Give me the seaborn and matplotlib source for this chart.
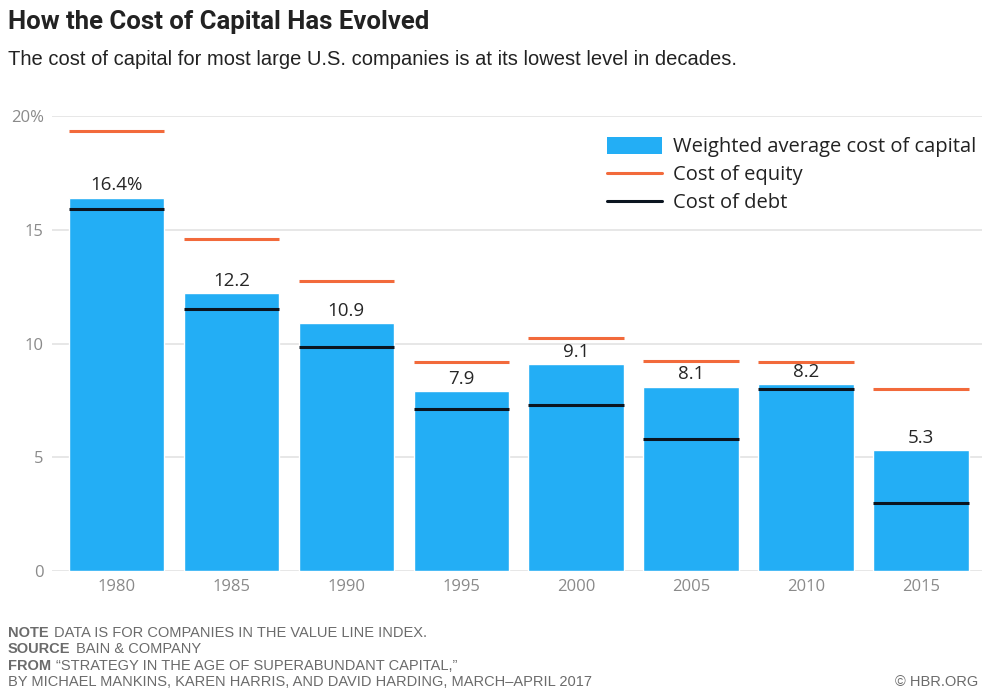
import numpy as np
import pandas as pd
import matplotlib
matplotlib.use("Agg")
import matplotlib.pyplot as plt
from matplotlib.patches import Patch
from matplotlib.lines import Line2D
import seaborn as sns

# data
years = ["1980", "1985", "1990", "1995", "2000", "2005", "2010", "2015"]
wacc = [16.4, 12.2, 10.9, 7.9, 9.1, 8.1, 8.2, 5.3]
wacc_labels = ["16.4%", "12.2", "10.9", "7.9", "9.1", "8.1", "8.2", "5.3"]
equity = [19.35, 14.6, 12.75, 9.2, 10.25, 9.25, 9.2, 8.0]
debt = [15.9, 11.5, 9.85, 7.1, 7.3, 5.8, 8.0, 3.0]

BLUE = "#23aef5"
ORANGE = "#f26a3b"
DARK = "#0b1520"
GRID = "#e3e3e3"

sns.set_theme(style="white")
plt.rcParams["font.family"] = ["Roboto", "Liberation Sans", "DejaVu Sans"]

df = pd.DataFrame({"year": years, "wacc": wacc})

fig = plt.figure(figsize=(9.88, 6.93), dpi=100)
ax = fig.add_axes([0.0526, 0.176, 0.9413, 0.6566])

bw = 0.83
sns.barplot(data=df, x="year", y="wacc", color=BLUE, saturation=1, width=bw, ax=ax, zorder=2)

xs = np.arange(len(years))
ax.hlines(equity, xs - bw / 2, xs + bw / 2, color=ORANGE, lw=2.2, zorder=3)
ax.hlines(debt, xs - bw / 2, xs + bw / 2, color=DARK, lw=2.2, zorder=3)

for x, v, lab in zip(xs, wacc, wacc_labels):
    ax.text(x, v + 0.15, lab, ha="center", va="bottom", fontsize=13.5,
            color="#262626", family=["Open Sans", "DejaVu Sans"])

ax.set_xlim(-0.561, 7.531)
ax.set_ylim(0, 20)
ax.set_yticks([0, 5, 10, 15, 20])
ax.set_yticklabels(["0", "5", "10", "15", "20%"])
ax.yaxis.grid(True, color=GRID, lw=1.2, zorder=0)
ax.set_axisbelow(True)
for s in ax.spines.values():
    s.set_visible(False)
ax.tick_params(axis="both", length=0, colors="#8a8a8a", labelsize=12)
ax.tick_params(axis="y", pad=6)
ax.tick_params(axis="x", pad=6)
for t in ax.get_xticklabels() + ax.get_yticklabels():
    t.set_family(["Open Sans", "DejaVu Sans"])
ax.set_xlabel("")
ax.set_ylabel("")

handles = [Patch(facecolor=BLUE, edgecolor="none"),
           Line2D([], [], color=ORANGE, lw=2.2),
           Line2D([], [], color=DARK, lw=2.2)]
leg = ax.legend(handles, ["Weighted average cost of capital", "Cost of equity", "Cost of debt"],
                loc="upper left", bbox_to_anchor=(607 / 988, 1 - 137 / 693),
                bbox_transform=fig.transFigure, frameon=False,
                handlelength=2.75, handleheight=0.9, handletextpad=0.55,
                labelspacing=0.38, borderpad=0, borderaxespad=0,
                prop={"family": ["Open Sans", "DejaVu Sans"], "size": 14.5})
for t in leg.get_texts():
    t.set_color("#222222")

fig.text(0.008, 1 - 29 / 693, "How the Cost of Capital Has Evolved", fontsize=18.5,
         fontweight="bold", color="#222222", va="baseline")
fig.text(0.008, 1 - 65 / 693,
         "The cost of capital for most large U.S. companies is at its lowest level in decades.",
         fontsize=14.5, color="#222222", va="baseline", family=["Liberation Sans", "DejaVu Sans"])

foot = "#6b6b6b"
rows = [("NOTE", "DATA IS FOR COMPANIES IN THE VALUE LINE INDEX."),
        ("SOURCE", "BAIN & COMPANY"),
        ("FROM", "\u201cSTRATEGY IN THE AGE OF SUPERABUNDANT CAPITAL,\u201d"),
        ("", "BY MICHAEL MANKINS, KAREN HARRIS, AND DAVID HARDING, MARCH\u2013APRIL 2017")]
base = [637, 653, 670, 686]
fig.canvas.draw()
r = fig.canvas.get_renderer()
for (b, rest), yb in zip(rows, base):
    x0 = 8 / 988
    if b:
        tb = fig.text(x0, 1 - yb / 693, b, fontsize=10.5, fontweight="bold", color=foot,
                      va="baseline", family=["Liberation Sans", "DejaVu Sans"])
        w = tb.get_window_extent(r).width
        x0 += (w + 5) / 988
    fig.text(x0, 1 - yb / 693, rest, fontsize=10.5, color=foot, va="baseline",
             family=["Liberation Sans", "DejaVu Sans"])
fig.text(978 / 988, 1 - 686 / 693, "\u00a9 HBR.ORG", fontsize=10.5, color=foot,
         ha="right", va="baseline", family=["Liberation Sans", "DejaVu Sans"])

fig.savefig("out.png", dpi=100)
